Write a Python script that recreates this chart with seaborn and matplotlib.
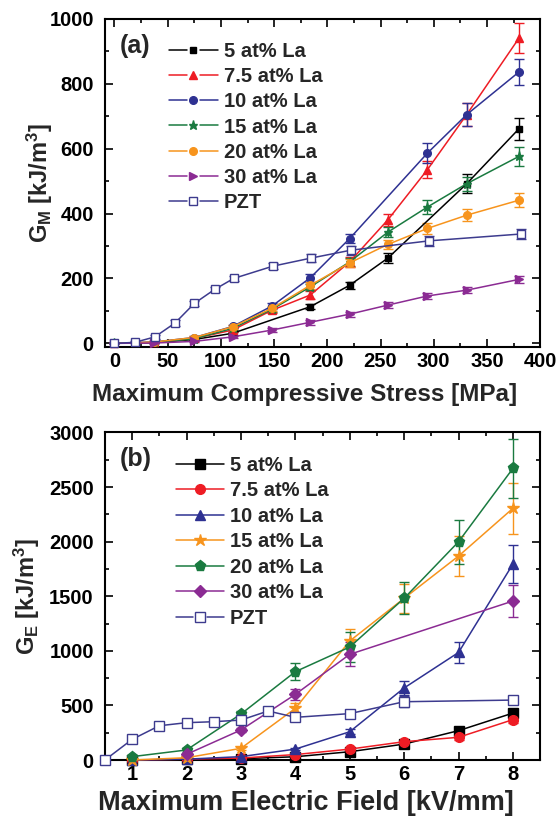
import matplotlib
matplotlib.use("Agg")
import matplotlib.pyplot as plt
from matplotlib.lines import Line2D
from matplotlib.legend_handler import HandlerBase
from matplotlib.ticker import MultipleLocator
import seaborn as sns
import pandas as pd

# ---------------- data: panel (a) ----------------
stress_la = [0, 37, 75, 111, 148, 184, 221, 257, 294, 331, 380]
stress_5 = [0, 37, 75, 111, 184, 221, 257, 331, 380]
stress_10 = [0, 37, 75, 111, 148, 184, 221, 294, 331, 380]
stress_pzt = [0, 19, 38, 57, 75, 94, 112, 149, 185, 222, 296, 382]

gm_5 = [0, 2, 12, 31, 113, 179, 263, 492, 661]
gm_7_5 = [0, 3, 15, 41, 102, 149, 251, 381, 535, 705, 940]
gm_10 = [0, 4, 18, 52, 115, 202, 323, 586, 705, 836]
gm_15 = [0, 3, 14, 46, 105, 174, 251, 343, 420, 492, 576]
gm_20 = [0, 4, 18, 51, 108, 179, 248, 305, 354, 395, 441]
gm_30 = [0, 1, 6, 20, 41, 65, 90, 118, 146, 164, 197]
gm_pzt = [0, 3, 20, 63, 123, 166, 200, 238, 263, 287, 316, 337]

gm_5_err = [0, 1, 3, 5, 8, 10, 15, 29, 34]
gm_7_5_err = [0, 2, 4, 6, 8, 12, 15, 18, 26, 35, 46]
gm_10_err = [0, 2, 4, 6, 8, 12, 15, 30, 35, 41]
gm_15_err = [0, 1, 3, 5, 7, 10, 12, 15, 21, 22, 28]
gm_20_err = [0, 2, 4, 6, 8, 10, 12, 15, 16, 18, 22]
gm_30_err = [0, 1, 2, 4, 6, 8, 8, 9, 10, 10, 12]
gm_pzt_err = [0, 3, 6, 8, 8, 8, 8, 10, 12, 14, 15, 16]

# ---------------- data: panel (b) ----------------
field_la = [1, 2, 3, 4, 5, 6, 7, 8]
field_30 = [2, 3, 4, 5, 8]
field_pzt = [0.5, 1, 1.5, 2, 2.5, 3, 3.5, 4, 5, 6, 8]

ge_5 = [0, 5, 12, 30, 76, 146, 269, 430]
ge_7_5 = [0, 8, 18, 50, 100, 168, 208, 370]
ge_10 = [0, 8, 31, 100, 259, 660, 985, 1795]
ge_15 = [0, 21, 107, 473, 1090, 1481, 1868, 2305]
ge_20 = [31, 92, 421, 809, 1035, 1481, 1999, 2671]
ge_30 = [52, 275, 601, 968, 1456]
ge_pzt = [0, 189, 314, 342, 351, 366, 449, 391, 425, 534, 549]

ge_5_err = [0, 2, 3, 5, 10, 15, 20, 30]
ge_7_5_err = [0, 2, 3, 6, 10, 15, 20, 35]
ge_10_err = [0, 3, 5, 10, 25, 60, 100, 175]
ge_15_err = [0, 5, 15, 45, 110, 130, 186, 232]
ge_20_err = [8, 15, 30, 80, 140, 148, 200, 270]
ge_30_err = [10, 20, 50, 110, 148]
ge_pzt_err = [0, 10, 10, 10, 10, 15, 25, 15, 20, 50, 40]

labels_a = ["5 at% La", "7.5 at% La", "10 at% La", "15 at% La", "20 at% La", "30 at% La", "PZT"]

# ---------------- style ----------------
sns.set_theme(style="ticks")
plt.rcParams["font.family"] = ["Liberation Sans", "DejaVu Sans"]
plt.rcParams["font.weight"] = "bold"
plt.rcParams["mathtext.fontset"] = "custom"
plt.rcParams["mathtext.rm"] = "Liberation Sans:bold"
plt.rcParams["mathtext.bf"] = "Liberation Sans:bold"
plt.rcParams["mathtext.it"] = "Liberation Sans:bold"
plt.rcParams["mathtext.default"] = "bf"

BLACK = "#000000"
RED = "#ee1c24"
BLUE = "#2e3192"
GREEN = "#1a7a40"
ORANGE = "#f7941d"
PURPLE = "#8b2b93"
NAVY = "#3d3b8e"

fig = plt.figure(figsize=(5.58, 8.19), dpi=100)
ax1 = fig.add_axes([0.188, 0.576, 0.780, 0.401])
ax2 = fig.add_axes([0.188, 0.072, 0.780, 0.400])


class GapHandler(HandlerBase):
    def create_artists(self, legend, orig_handle, xdescent, ydescent,
                       width, height, fontsize, trans):
        y = height / 2 - ydescent
        x0 = -xdescent
        kw = dict(color=orig_handle.get_color(), lw=orig_handle.get_linewidth())
        l1 = Line2D([x0, x0 + width * 0.36], [y, y], **kw)
        l2 = Line2D([x0 + width * 0.64, x0 + width], [y, y], **kw)
        m = Line2D([x0 + width / 2], [y], linestyle="none",
                   marker=orig_handle.get_marker(),
                   markersize=orig_handle.get_markersize(),
                   markerfacecolor=orig_handle.get_markerfacecolor(),
                   markeredgecolor=orig_handle.get_markeredgecolor(),
                   markeredgewidth=orig_handle.get_markeredgewidth())
        for a in (l1, l2, m):
            a.set_transform(trans)
        return [l1, l2, m]


def draw(ax, x, y, err, color, marker, ms, mfc=None, mew=1.0):
    df = pd.DataFrame({"x": x, "y": y})
    ax.errorbar(x, y, yerr=err, fmt="none", ecolor=color, elinewidth=1.0,
                capsize=3.5, capthick=1.0, zorder=2, clip_on=False)
    sns.lineplot(data=df, x="x", y="y", ax=ax, color=color, marker=marker,
                 markersize=ms, linewidth=1.1, markeredgecolor=color,
                 markerfacecolor=mfc if mfc else color, markeredgewidth=mew,
                 legend=False, sort=False, zorder=3, clip_on=False)
    return Line2D([], [], color=color, lw=1.1, marker=marker, markersize=ms,
                  markeredgecolor=color, markerfacecolor=mfc if mfc else color,
                  markeredgewidth=mew)


# ---------------- panel (a) ----------------
series_a = [
    (stress_5, gm_5, gm_5_err, BLACK, "s", 4.5, None),
    (stress_la, gm_7_5, gm_7_5_err, RED, "^", 5.5, None),
    (stress_10, gm_10, gm_10_err, BLUE, "o", 5.5, None),
    (stress_la, gm_15, gm_15_err, GREEN, "*", 6.5, None),
    (stress_la, gm_20, gm_20_err, ORANGE, "o", 5.5, None),
    (stress_la, gm_30, gm_30_err, PURPLE, ">", 5.5, None),
    (stress_pzt, gm_pzt, gm_pzt_err, NAVY, "s", 5.5, "white"),
]
handles_a = []
for (x, y, e, c, m, ms, mfc) in series_a:
    handles_a.append(draw(ax1, x, y, e, c, m, ms, mfc))

ax1.set_xlim(-9, 400)
ax1.set_ylim(-12, 1000)
ax1.xaxis.set_major_locator(MultipleLocator(50))
ax1.xaxis.set_minor_locator(MultipleLocator(25))
ax1.yaxis.set_major_locator(MultipleLocator(200))
ax1.yaxis.set_minor_locator(MultipleLocator(100))
ax1.set_xlabel("Maximum Compressive Stress [MPa]", fontsize=17.5, fontweight="bold")
ax1.xaxis.set_label_coords(0.459, -0.11)
ax1.set_ylabel(r"G$_\mathbf{M}$ [kJ/m$^\mathbf{3}$]", fontsize=17, fontweight="bold")
ax1.yaxis.set_label_coords(-0.115, 0.5)
ax1.text(0.035, 0.955, "(a)", transform=ax1.transAxes, fontsize=18,
         fontweight="bold", va="top", ha="left")
leg1 = ax1.legend(handles_a, labels_a, loc="upper left", bbox_to_anchor=(0.12, 0.965),
                  frameon=False, fontsize=14.5, handlelength=2.4, handletextpad=0.3,
                  labelspacing=0.3, borderaxespad=0.2,
                  handler_map={Line2D: GapHandler()})
for t in leg1.get_texts():
    t.set_fontweight("bold")

# ---------------- panel (b) ----------------
series_b = [
    (field_la, ge_5, ge_5_err, BLACK, "s", 6.5, None),
    (field_la, ge_7_5, ge_7_5_err, RED, "o", 7, None),
    (field_la, ge_10, ge_10_err, BLUE, "^", 7.5, None),
    (field_la, ge_15, ge_15_err, ORANGE, "*", 9, None),
    (field_la, ge_20, ge_20_err, GREEN, "p", 8, None),
    (field_30, ge_30, ge_30_err, PURPLE, "D", 6.5, None),
    (field_pzt, ge_pzt, ge_pzt_err, NAVY, "s", 6.5, "white"),
]
handles_b = []
for (x, y, e, c, m, ms, mfc) in series_b:
    handles_b.append(draw(ax2, x, y, e, c, m, ms, mfc))

ax2.set_xlim(0.5, 8.5)
ax2.set_ylim(0, 3000)
ax2.xaxis.set_major_locator(MultipleLocator(1))
ax2.xaxis.set_minor_locator(MultipleLocator(0.5))
ax2.yaxis.set_major_locator(MultipleLocator(500))
ax2.yaxis.set_minor_locator(MultipleLocator(250))
ax2.set_xlabel("Maximum Electric Field [kV/mm]", fontsize=19.5, fontweight="bold")
ax2.xaxis.set_label_coords(0.462, -0.092)
ax2.set_ylabel(r"G$_\mathbf{E}$ [kJ/m$^\mathbf{3}$]", fontsize=17, fontweight="bold")
ax2.yaxis.set_label_coords(-0.145, 0.5)
ax2.text(0.035, 0.955, "(b)", transform=ax2.transAxes, fontsize=18,
         fontweight="bold", va="top", ha="left")
pzt_h = handles_b[-1]
leg2 = ax2.legend(handles_b, labels_a, loc="upper left", bbox_to_anchor=(0.135, 0.965),
                  frameon=False, fontsize=14.5, handlelength=2.4, handletextpad=0.3,
                  labelspacing=0.32, borderaxespad=0.2,
                  handler_map={pzt_h: GapHandler()})
for t in leg2.get_texts():
    t.set_fontweight("bold")

for ax in (ax1, ax2):
    for s in ax.spines.values():
        s.set_linewidth(1.5)
        s.set_color("black")
    ax.tick_params(which="both", direction="in", top=True, right=True,
                   labelsize=14.5, width=1.2, colors="black")
    ax.tick_params(which="major", length=6)
    ax.tick_params(which="minor", length=3)
    ax.tick_params(axis="y", which="major", pad=8)
    for lab in ax.get_xticklabels() + ax.get_yticklabels():
        lab.set_fontweight("bold")

fig.savefig("out.png", dpi=100)
